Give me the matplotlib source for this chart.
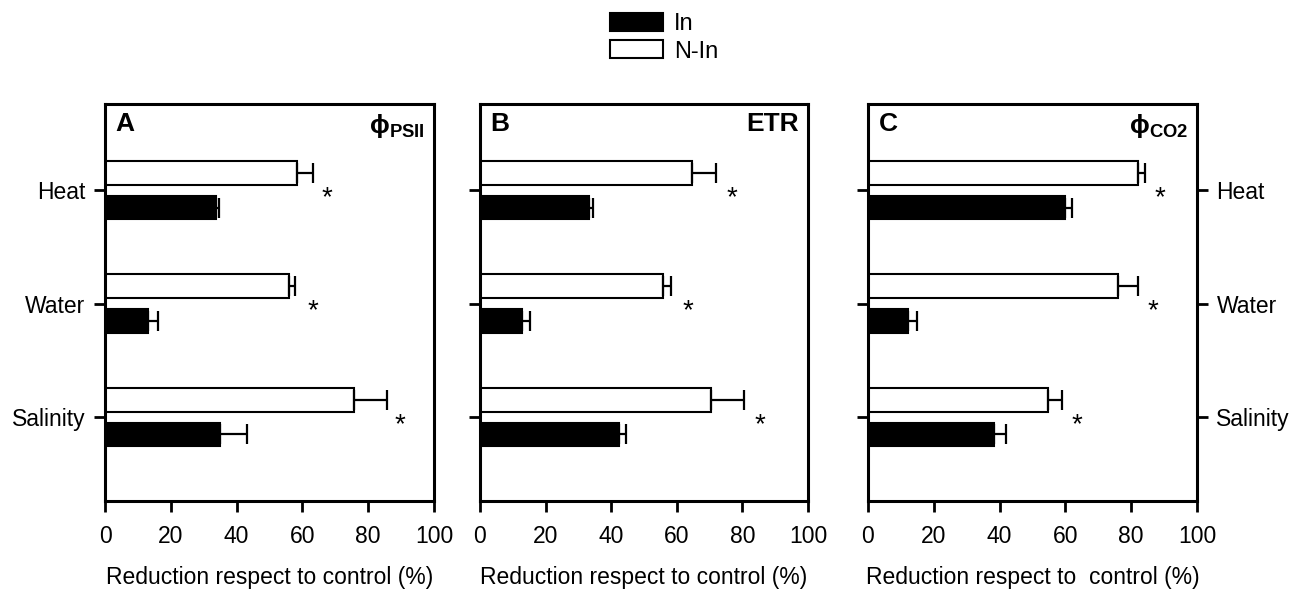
import numpy as np
import matplotlib.pyplot as plt
from matplotlib.patches import Patch

plt.rcParams['font.family'] = ['Liberation Sans', 'DejaVu Sans']
plt.rcParams['mathtext.fontset'] = 'custom'
plt.rcParams['mathtext.rm'] = 'Liberation Sans'
plt.rcParams['mathtext.bf'] = 'Liberation Sans:bold'
plt.rcParams['mathtext.it'] = 'Liberation Sans:italic'

# categories (top to bottom)
stress = ["Heat", "Water", "Salinity"]

# panel A: phi PSII
a_in = [33.7, 13.0, 35.0]
a_in_err = [1.1, 3.0, 8.3]
a_nin = [58.5, 55.9, 75.7]
a_nin_err = [4.8, 2.0, 9.9]
a_star = [67.5, 63.1, 89.7]

# panel B: ETR
b_in = [33.3, 12.7, 42.5]
b_in_err = [1.1, 2.5, 2.0]
b_nin = [64.5, 55.9, 70.3]
b_nin_err = [7.6, 2.2, 10.2]
b_star = [76.7, 63.5, 85.2]

# panel C: phi CO2
c_in = [59.9, 12.1, 38.4]
c_in_err = [2.0, 2.7, 3.5]
c_nin = [82.2, 75.9, 54.6]
c_nin_err = [2.0, 6.3, 4.5]
c_star = [88.6, 86.7, 63.4]

panel_letters = ["A", "B", "C"]
panel_names = [r"ϕ$_{\mathbf{PSII}}$", "ETR", r"ϕ$_{\mathbf{CO2}}$"]
xlabels = ["Reduction respect to control (%)",
           "Reduction respect to control (%)",
           "Reduction respect to  control (%)"]

W, H = 1293, 592
fig = plt.figure(figsize=(W / 100, H / 100), dpi=100)

lefts = [105, 480, 868]
widths = [329, 328, 329]
bottom = 1 - 501 / H
height = (501 - 104) / H

data = [(a_in, a_in_err, a_nin, a_nin_err, a_star),
        (b_in, b_in_err, b_nin, b_nin_err, b_star),
        (c_in, c_in_err, c_nin, c_nin_err, c_star)]

y = np.arange(len(stress))
bh = 0.21
off = 0.153
zeros = [0, 0, 0]
ekw = dict(ecolor='black', elinewidth=1.6, capsize=7, capthick=1.6)

for i, (vin, ein, vnin, enin, star) in enumerate(data):
    ax = fig.add_axes([lefts[i] / W, bottom, widths[i] / W, height])
    ax.barh(y - off, vnin, height=bh, color='white', edgecolor='black', linewidth=1.5,
            xerr=[zeros, enin], error_kw=ekw)
    ax.barh(y + off, vin, height=bh, color='black', edgecolor='black', linewidth=1.5,
            xerr=[zeros, ein], error_kw=ekw)
    for k in range(len(stress)):
        ax.text(star[k], y[k] + 0.13, "*", fontsize=20, ha='center', va='baseline')

    ax.set_xlim(0, 100)
    ax.set_ylim(2.74, -0.76)
    ax.set_xticks(np.arange(0, 101, 20))
    ax.set_yticks(y)
    ax.set_yticklabels(stress)
    for s in ax.spines.values():
        s.set_linewidth(2.2)
    ax.tick_params(axis='both', direction='out', length=8, width=2, labelsize=16.5)
    ax.tick_params(axis='x', pad=9)
    ax.tick_params(axis='y', pad=6)
    if i == 0:
        ax.tick_params(axis='y', left=True, right=False, labelleft=True)
    elif i == 1:
        ax.tick_params(axis='y', left=True, right=False, labelleft=False)
    else:
        ax.tick_params(axis='y', left=True, right=True, labelleft=False, labelright=True)
    ax.set_xlabel(xlabels[i], fontsize=16.5, labelpad=13)

    ax.text(3.2, -0.69, panel_letters[i], fontsize=19, fontweight='bold', ha='left', va='top')
    ax.text(97.3, -0.69, panel_names[i], fontsize=19, fontweight='bold', ha='right', va='top')

handles = [Patch(facecolor='black', edgecolor='black', linewidth=1.5, label='In'),
           Patch(facecolor='white', edgecolor='black', linewidth=1.5, label='N-In')]
fig.legend(handles=handles, loc='upper left', bbox_to_anchor=(610 / W, 1 - 13 / H),
           frameon=False, fontsize=17, handlelength=2.25, handleheight=0.8,
           handletextpad=0.45, labelspacing=0.22, borderpad=0, borderaxespad=0)

fig.savefig("out.png", dpi=100)
